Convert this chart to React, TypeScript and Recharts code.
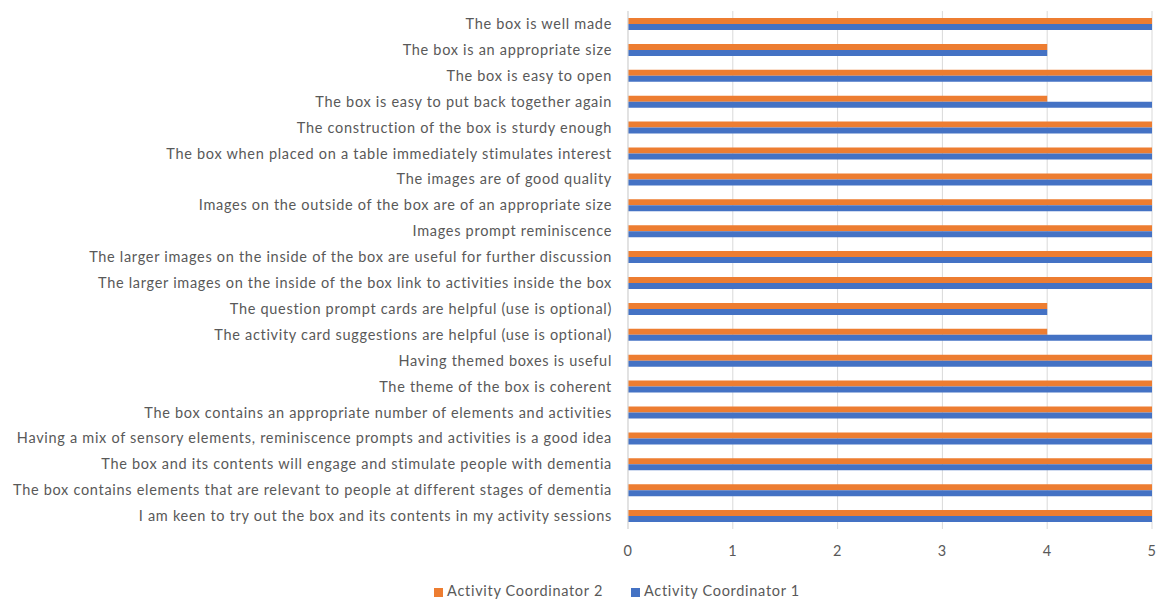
import { BarChart, Bar, XAxis, YAxis, CartesianGrid, Legend } from "recharts";

// statements, top to bottom
const statements = [
  "The box is well made",
  "The box is an appropriate size",
  "The box is easy to open ",
  "The box is easy to put back together again ",
  "The construction of the box is sturdy enough",
  "The box when placed on a table immediately stimulates interest",
  "The images are of good quality",
  "Images on the outside of the box are of an appropriate size",
  "Images prompt reminiscence",
  "The larger images on the inside of the box are useful for further discussion",
  "The larger images on the inside of the box link to activities inside the box",
  "The question prompt cards are helpful (use is optional)",
  "The activity card suggestions are helpful (use is optional)",
  "Having themed boxes is useful",
  "The theme of the box is coherent",
  "The box contains an appropriate number of elements and activities",
  "Having a mix of sensory elements, reminiscence prompts and activities is a good idea",
  "The box and its contents will engage and stimulate people with dementia",
  "The box contains elements that are relevant to people at different stages of dementia",
  "I am keen to try out the box and its contents in my activity sessions",
];

const coordinator2 = [5, 4, 5, 4, 5, 5, 5, 5, 5, 5, 5, 4, 4, 5, 5, 5, 5, 5, 5, 5];
const coordinator1 = [5, 4, 5, 5, 5, 5, 5, 5, 5, 5, 5, 4, 5, 5, 5, 5, 5, 5, 5, 5];

const xTicks = [0, 1, 2, 3, 4, 5];

// keys chosen so the legend's default sort keeps coordinator 2 first
const data = statements.map((name, i) => ({
  name,
  a_c2: coordinator2[i],
  b_c1: coordinator1[i],
}));

const FONT = "Lato, 'Open Sans', sans-serif";
const GREY = "#595959";

export default function App() {
  return (
    <div style={{ position: "absolute", left: 0, top: 0, fontFamily: FONT }}>
      <BarChart
        width={1157}
        height={599}
        data={data}
        layout="vertical"
        margin={{ top: 11, right: 5, left: 0, bottom: 17 }}
        barGap={0}
        barCategoryGap={0}
      >
        <CartesianGrid horizontal={false} stroke="#d9d9d9" />
        <XAxis
          type="number"
          domain={[0, 5]}
          ticks={xTicks}
          axisLine={false}
          tickLine={false}
          tick={{ fontSize: 14.5, fill: GREY, letterSpacing: 0.7 }}
          tickMargin={11}
          height={36}
        />
        <YAxis
          type="category"
          dataKey="name"
          width={628}
          interval={0}
          tickLine={false}
          tickSize={0}
          tickMargin={16}
          axisLine={{ stroke: "#d9d9d9" }}
          tick={{ fontSize: 14.5, fill: GREY, letterSpacing: 0.7 }}
        />
        <Legend
          iconType="square"
          iconSize={9}
          itemSorter="dataKey"
          wrapperStyle={{ fontSize: 14.5, letterSpacing: 0.7, bottom: 0, left: 55 }}
          formatter={(v) => <span style={{ color: GREY, marginRight: 18 }}>{v}</span>}
        />
        <Bar dataKey="a_c2" name="Activity Coordinator 2" fill="#ED7D31" barSize={6} isAnimationActive={false} />
        <Bar dataKey="b_c1" name="Activity Coordinator 1" fill="#4472C4" barSize={6} isAnimationActive={false} />
      </BarChart>
    </div>
  );
}
